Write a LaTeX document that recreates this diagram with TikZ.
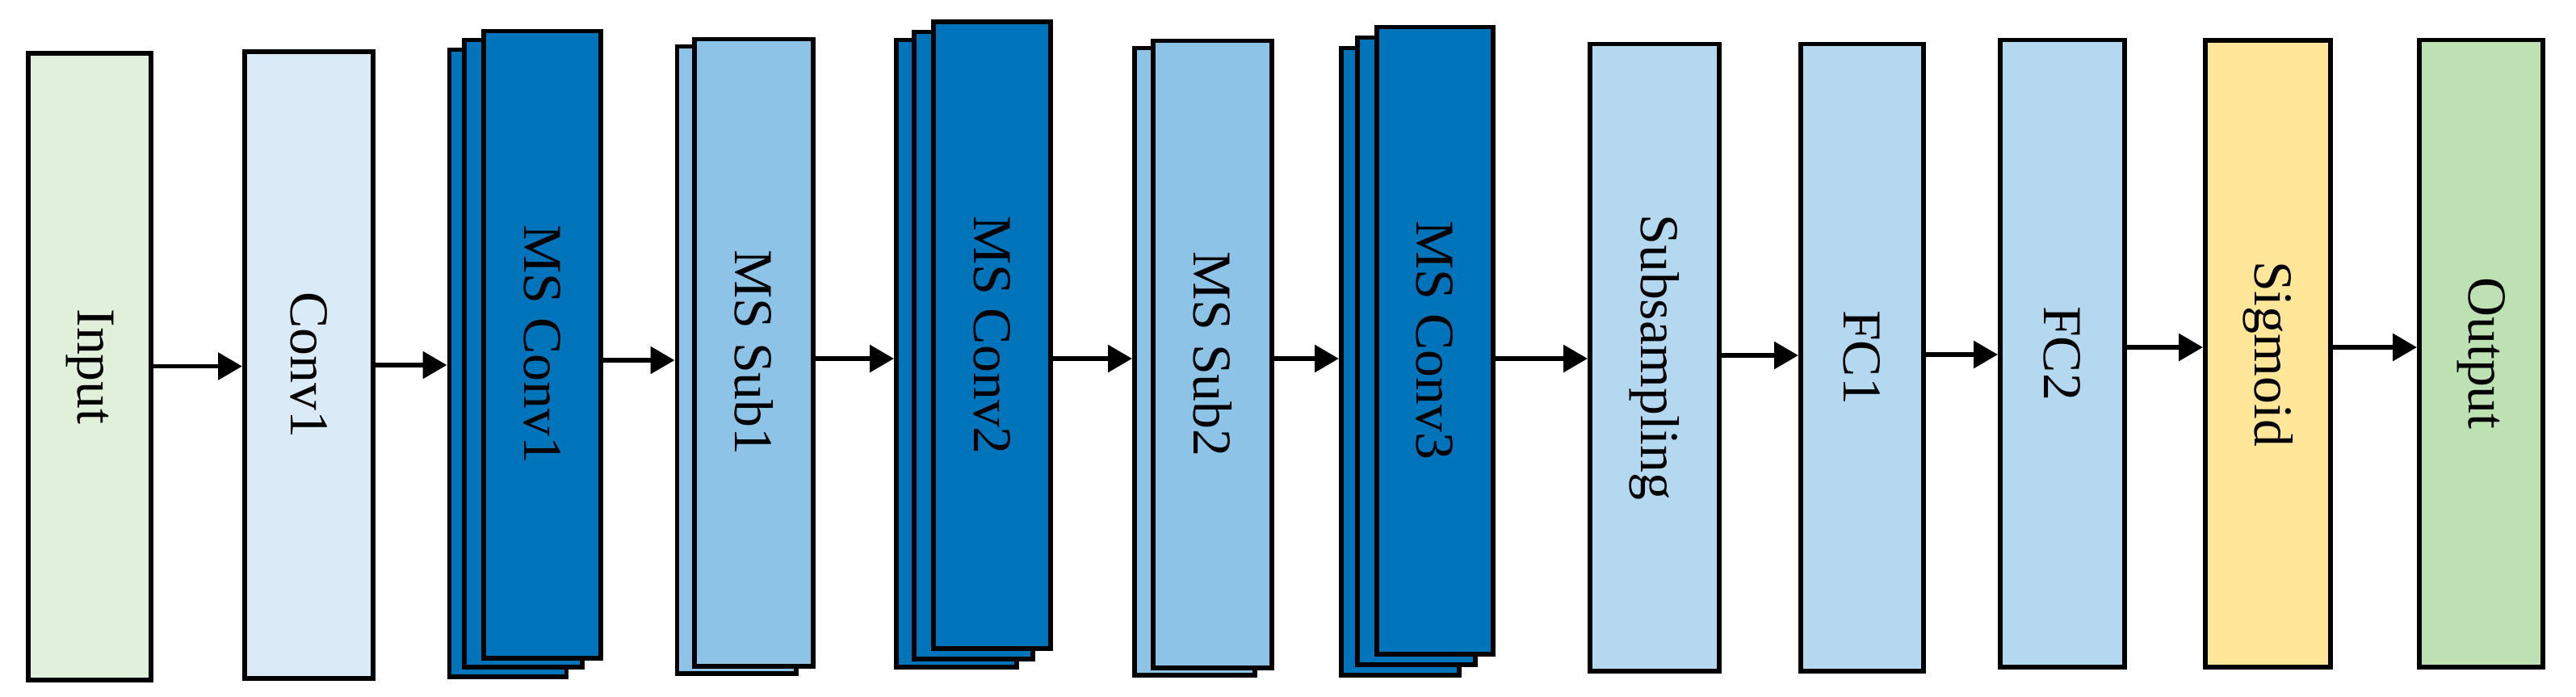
\documentclass[tikz,border=0pt]{standalone}
\usepackage{fontspec}
\setmainfont{Liberation Serif}
\usetikzlibrary{arrows.meta}
\definecolor{cin}{HTML}{E0F0DA}
\definecolor{cconv}{HTML}{DAEAF7}
\definecolor{cms}{HTML}{0074BA}
\definecolor{cmss}{HTML}{8DC3E7}
\definecolor{cfc}{HTML}{B4D8F0}
\definecolor{csig}{HTML}{FFE699}
\definecolor{cout}{HTML}{BDE1B2}
\begin{document}
\begin{tikzpicture}[x=1cm,y=1cm,font=\fontsize{19.3}{23}\selectfont,box/.style={draw,line width=1.7pt,inner sep=0pt,minimum width=#1cm,minimum height=7.76cm},arr/.style={line width=1.7pt,-{Triangle[length=0.3cm,width=0.33cm]}}]
\useasboundingbox (0,0) rectangle (31.9,8.62);
% layers, back to front
\foreach \n/\x/\y/\w/\c/\t in {in/1.11/4.08/1.52/cin/Input, c1/3.825/4.10/1.59/cconv/Conv1,
  msc1a/6.29/4.125/1.45/cms/{}, msc1b/6.48/4.245/1.46/cms/{}, msc1c/6.715/4.355/1.45/cms/MS Conv1,
  mss1a/9.12/4.165/1.47/cmss/{}, mss1b/9.335/4.255/1.47/cmss/MS Sub1,
  msc2a/11.845/4.245/1.49/cms/{}, msc2b/12.055/4.345/1.47/cms/{}, msc2c/12.285/4.47/1.45/cms/MS Conv2,
  mss2a/14.795/4.145/1.49/cmss/{}, mss2b/15.015/4.235/1.47/cmss/MS Sub2,
  msc3a/17.34/4.145/1.46/cms/{}, msc3b/17.54/4.275/1.46/cms/{}, msc3c/17.77/4.405/1.44/cms/MS Conv3,
  sub/20.49/4.195/1.60/cfc/Subsampling, fc1/23.06/4.195/1.52/cfc/FC1, fc2/25.54/4.245/1.54/cfc/FC2,
  sig/28.085/4.24/1.55/csig/Sigmoid, out/30.725/4.245/1.53/cout/Output}
  {\node[box=\w,fill=\c] (\n) at (\x,\y) {\rotatebox{-90}{\t}};}
\foreach \a/\b/\y in {in/c1/4.085, c1/msc1a/4.10, msc1c/mss1a/4.16, mss1b/msc2a/4.18, msc2c/mss2a/4.18, mss2b/msc3a/4.18,
  msc3c/sub/4.18, sub/fc1/4.22, fc1/fc2/4.23, fc2/sig/4.32, sig/out/4.32}
  {\draw[arr] (\a.east |- 0,\y) -- (\b.west |- 0,\y);}
\end{tikzpicture}
\end{document}
